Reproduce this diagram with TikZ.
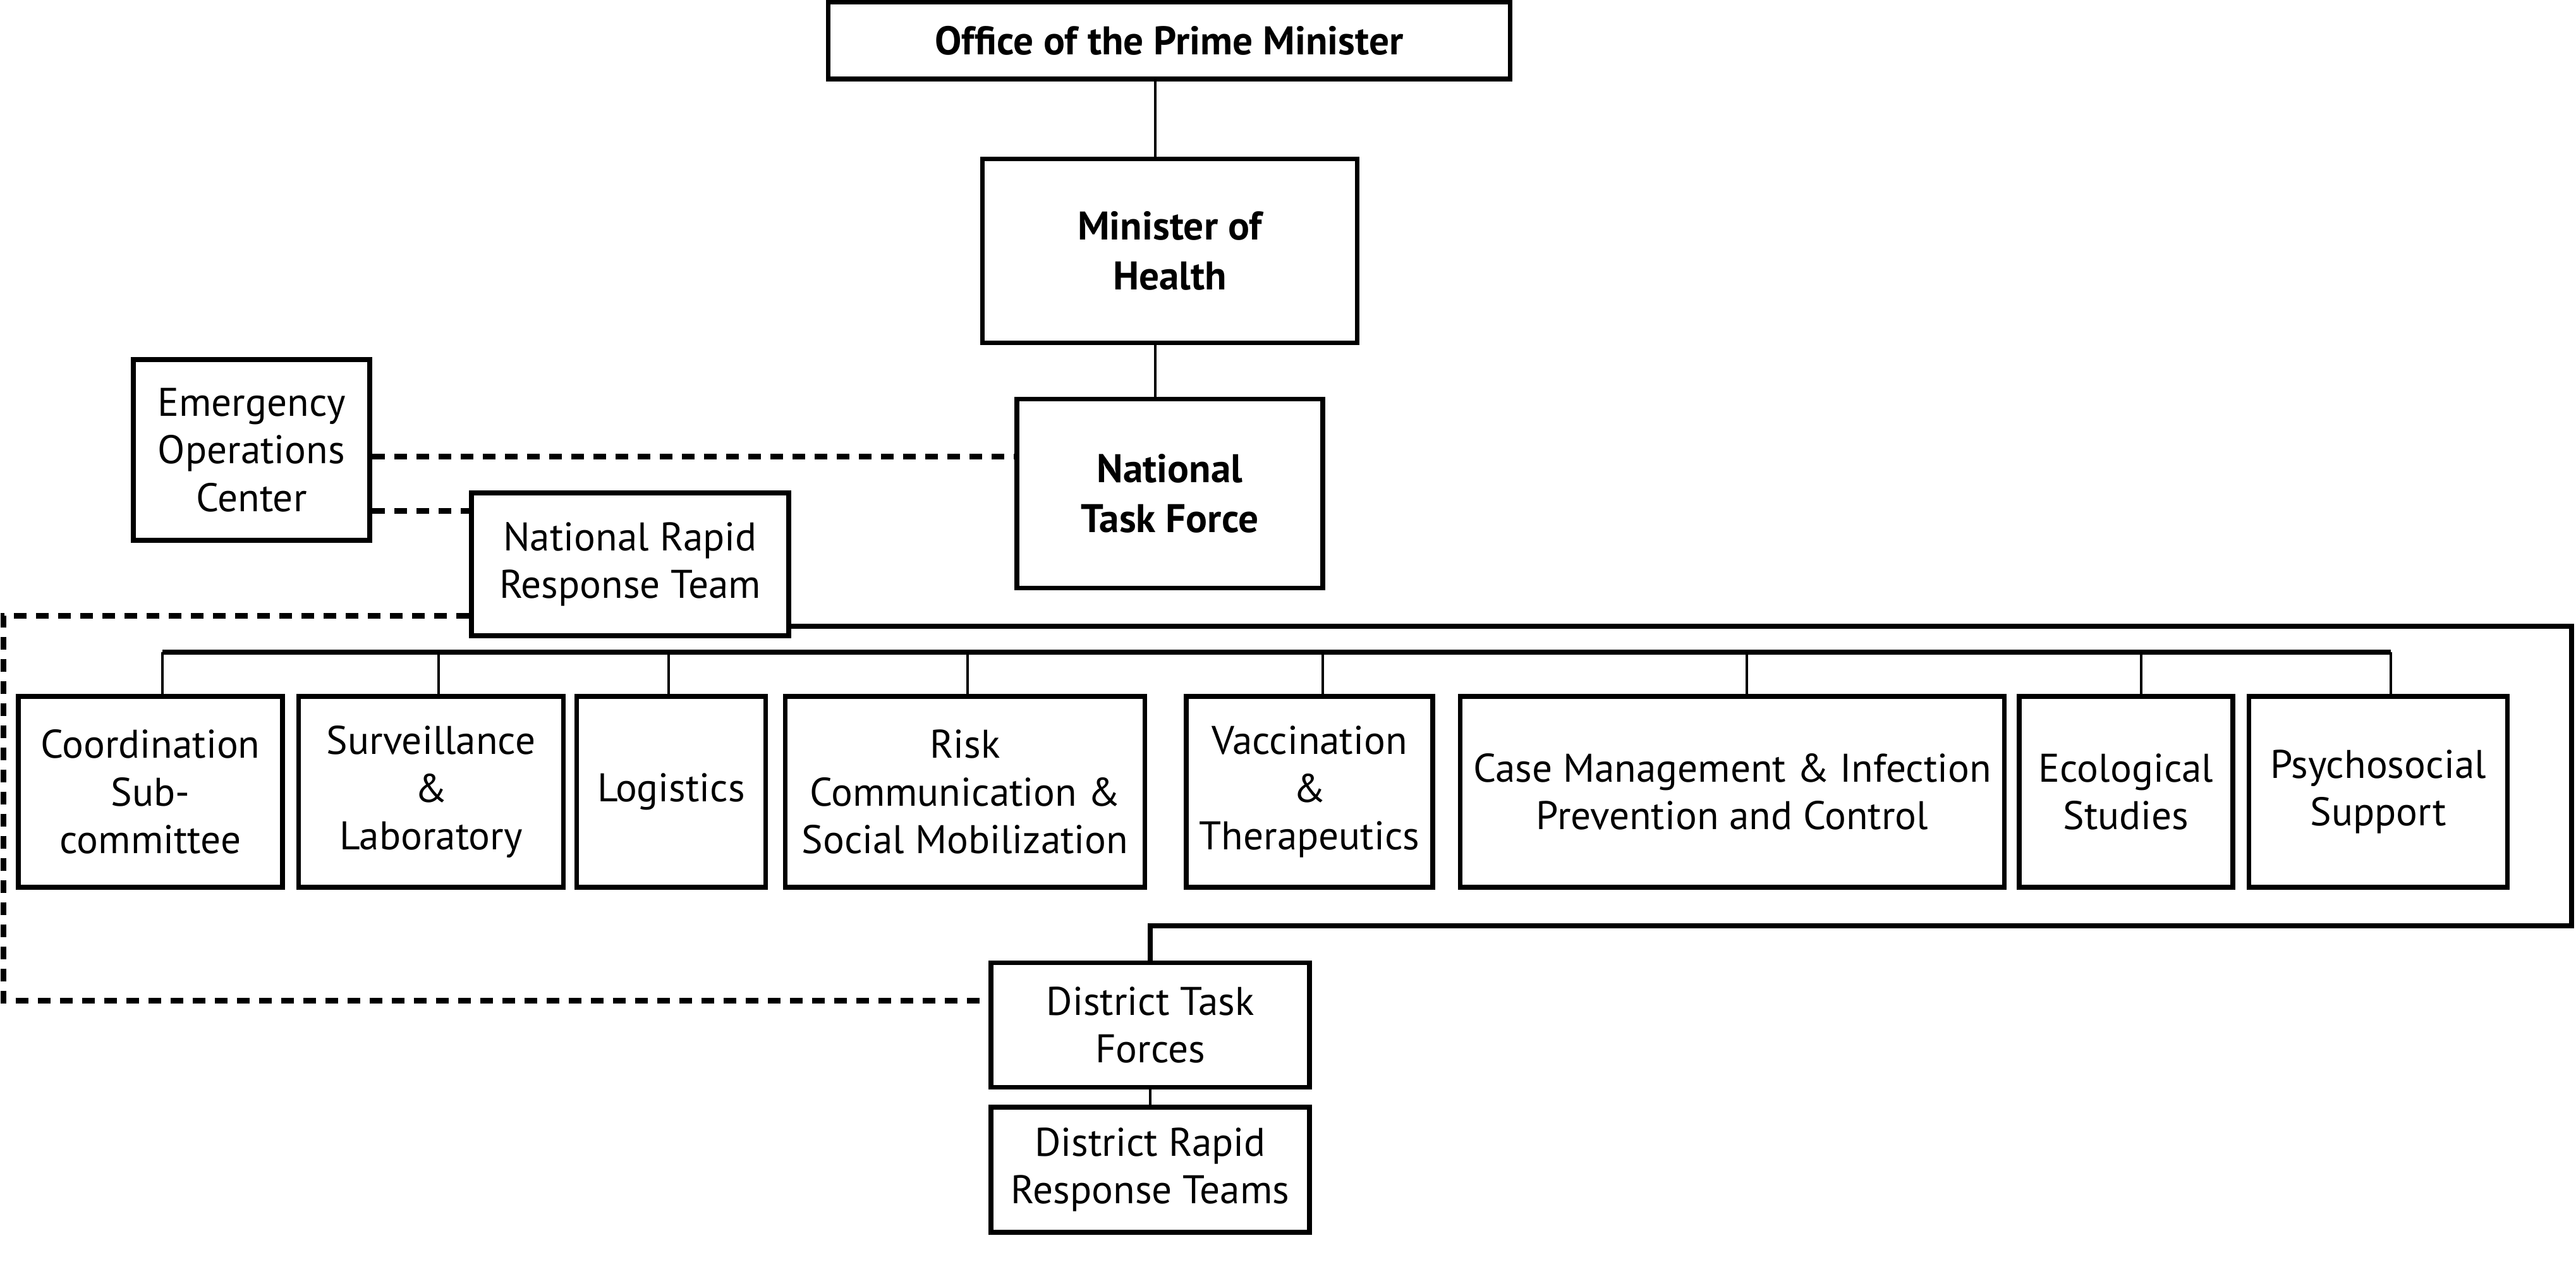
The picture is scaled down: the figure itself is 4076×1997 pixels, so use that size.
\documentclass[tikz,border=0pt]{standalone}
\usepackage{fontspec}
\setmainfont{PT Sans}
\usetikzlibrary{positioning}

\begin{document}
\begin{tikzpicture}[x=.1mm,y=-.1mm,font=\fontsize{18}{21.5}\selectfont,
 unit/.style={draw,line width=.75mm,align=center,inner sep=0pt},
 head/.style={unit,font=\fontsize{18}{22.5}\selectfont\bfseries},
 tie/.style={line width=.45mm},
 trunk/.style={line width=.75mm},
 link/.style={line width=.9mm,dash pattern=on 2mm off 1.5mm}]
\useasboundingbox (0,0) rectangle (4076,1997);
\node[head,minimum width=107.9mm,minimum height=12.2mm] (pm) at (1850,64) {Office of the Prime Minister};
\node[head,minimum width=59.3mm,minimum height=29.1mm] (moh) at (1851,397) {Minister of\\Health};
\node[head,minimum width=48.4mm,minimum height=29.9mm] (ntf) at (1851,781) {National\\Task Force};
\node[unit,minimum width=37.4mm,minimum height=28.6mm] (eoc) at (398,712) {Emergency\\Operations\\Center};
\node[unit,minimum width=50.2mm,minimum height=22.6mm] (nrrt) at (997,893) {National Rapid\\Response Team};
\foreach \n/\cx/\w/\t in {coord/238/41.8/{Coordination\\Sub-\\committee}, surv/682/41.9/{Surveillance\\\&\\Laboratory}, logi/1062/29.9/{Logistics}, risk/1527/56.9/{Risk\\Communication \&\\Social Mobilization}, vacc/2072/39/{Vaccination\\\&\\Therapeutics}, case/2741/86.1/{Case Management \& Infection\\Prevention and Control}, eco/3364/33.8/{Ecological\\Studies}, psy/3763/40.9/{Psychosocial\\Support}}
 \node[unit,minimum width=\w mm,minimum height=30.2mm] (\n) at (\cx,1253) {\t};
\node[unit,minimum width=50.4mm,minimum height=19.7mm] (dtf) at (1820,1622) {District Task\\Forces};
\node[unit,minimum width=50.4mm,minimum height=19.8mm] (drrt) at (1820,1851) {District Rapid\\Response Teams};
\draw[tie] ([xshift=-2.2mm]pm.south) -- ([xshift=-2.2mm]pm.south |- moh.north);
\draw[tie] ([xshift=-2.3mm]moh.south) -- ([xshift=-2.3mm]moh.south |- ntf.north);
\draw[link] ([yshift=-1.1mm]eoc.east) -- ([yshift=-1.1mm]eoc.east -| ntf.west);
\draw[link] ([yshift=-9.7mm]eoc.east) -- ([yshift=-9.7mm]eoc.east -| nrrt.west);
\coordinate (lft) at (5,1300);
\draw[link] ([yshift=-8.2mm]nrrt.west) -| (lft) |- ([yshift=3.9mm]dtf.west);
\coordinate (rgt) at (4069,1200);
\draw[trunk] ([yshift=-9.8mm]nrrt.east) -| (rgt) |- ([yshift=5.5mm]dtf.north) -- (dtf.north);
\coordinate (bus) at (0,1032);
\draw[trunk] ([xshift=1.9mm]coord.north |- bus) -- ([xshift=2mm]psy.north |- bus);
\foreach \n/\dx in {coord/1.9,surv/1.2,logi/-0.4,risk/0.4,vacc/2.1,case/2.3,eco/2.4,psy/2}
 \draw[tie] ([xshift=\dx mm]\n.north |- bus) -- ([xshift=\dx mm]\n.north);
\draw[tie] (dtf.south) -- (drrt.north);
\end{tikzpicture}
\end{document}
